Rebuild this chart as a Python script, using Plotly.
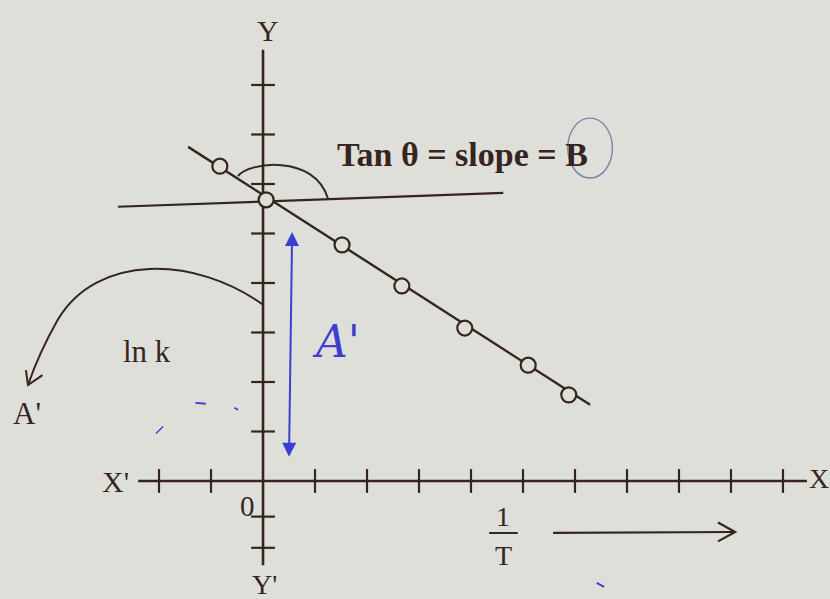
import plotly.graph_objects as go

# Arrhenius plot: ln k against 1/T (axis units = tick spacing)
inv_T = [-0.83, 0.06, 1.52, 2.67, 3.88, 5.10, 5.88]
ln_k = [6.36, 5.68, 4.77, 3.94, 3.09, 2.34, 1.74]

# straight line drawn through the points
fit_x = [-1.44, 6.29]
fit_y = [6.75, 1.54]

# axis tick positions
x_ticks = [-2, -1, 1, 2, 3, 4, 5, 6, 7, 8, 9, 10]
y_ticks = [-1.35, -0.72, 1, 2, 3, 4, 5, 6, 7, 8]

INK = "#36251f"
PAPER = "#dfdfda"
BLUE = "#3c3ed2"
SERIF = "Liberation Serif, Times New Roman, serif"

fig = go.Figure()

# axes X'X and Y'Y
fig.add_trace(go.Scatter(x=[-2.40, 10.46], y=[0, 0], mode="lines",
                         line=dict(color=INK, width=2.6), hoverinfo="skip"))
fig.add_trace(go.Scatter(x=[0, 0], y=[-1.70, 8.71], mode="lines",
                         line=dict(color=INK, width=2.6), hoverinfo="skip"))

# tick marks crossing the axes
fig.add_trace(go.Scatter(x=x_ticks, y=[0] * len(x_ticks), mode="markers",
                         marker=dict(symbol="line-ns", size=17,
                                     line=dict(color=INK, width=2.2)),
                         hoverinfo="skip"))
fig.add_trace(go.Scatter(x=[0] * len(y_ticks), y=y_ticks, mode="markers",
                         marker=dict(symbol="line-ew", size=17,
                                     line=dict(color=INK, width=2.2)),
                         hoverinfo="skip"))

# horizontal reference line for the angle θ
fig.add_trace(go.Scatter(x=[-2.79, 4.62], y=[5.54, 5.82], mode="lines",
                         line=dict(color=INK, width=2.2), hoverinfo="skip"))

# best-fit line and experimental points
fig.add_trace(go.Scatter(x=fit_x, y=fit_y, mode="lines",
                         line=dict(color=INK, width=2.4), hoverinfo="skip"))
fig.add_trace(go.Scatter(x=inv_T, y=ln_k, mode="markers",
                         marker=dict(symbol="circle", size=15, color=PAPER,
                                     line=dict(color=INK, width=2.2)),
                         hoverinfo="skip"))

shapes = [
    # angle arc between line and horizontal
    dict(type="path", path="M -0.48,6.16 C -0.3,6.44 1.0,6.62 1.25,5.70",
         line=dict(color=INK, width=2), layer="above"),
    # curved arrow from intercept to A'
    dict(type="path",
         path="M 0,3.56 C -1.3,4.55 -3.2,4.6 -3.95,3.25 Q -4.3,2.6 -4.52,1.94",
         line=dict(color=INK, width=2)),
    dict(type="path", path="M -4.56,2.24 L -4.52,1.94 L -4.24,2.14",
         line=dict(color=INK, width=2)),
    # fraction bar of 1/T and direction arrow
    dict(type="line", x0=4.35, x1=4.90, y0=-1.05, y1=-1.05,
         line=dict(color=INK, width=2)),
    dict(type="line", x0=5.58, x1=9.05, y0=-1.05, y1=-1.03,
         line=dict(color=INK, width=2.2)),
    dict(type="path", path="M 8.75,-0.84 L 9.08,-1.03 L 8.75,-1.22",
         line=dict(color=INK, width=2.2)),
    # pen marks: ring around B, small strokes
    dict(type="circle", x0=5.86, x1=6.72, y0=6.12, y1=7.33,
         line=dict(color="#7d80a8", width=1.4)),
    dict(type="line", x0=-1.30, x1=-1.10, y0=1.58, y1=1.56,
         line=dict(color=BLUE, width=1.8)),
    dict(type="line", x0=-0.55, x1=-0.48, y0=1.48, y1=1.44,
         line=dict(color=BLUE, width=1.8)),
    dict(type="line", x0=-2.06, x1=-1.92, y0=0.96, y1=1.10,
         line=dict(color=BLUE, width=1.4)),
    dict(type="line", x0=6.42, x1=6.56, y0=-2.06, y1=-2.14,
         line=dict(color=BLUE, width=2)),
]

annotations = [
    dict(x=0.10, y=9.11, text="Y", font=dict(size=30)),
    dict(x=0.02, y=-2.10, text="Y'", font=dict(size=28)),
    dict(x=-2.84, y=-0.02, text="X'", font=dict(size=30)),
    dict(x=10.70, y=0.06, text="X", font=dict(size=28)),
    dict(x=-0.30, y=-0.50, text="0", font=dict(size=29)),
    dict(x=-2.23, y=2.61, text="ln k", font=dict(size=31)),
    dict(x=-4.54, y=1.37, text="A'", font=dict(size=31)),
    dict(x=4.62, y=-0.72, text="1", font=dict(size=28)),
    dict(x=4.62, y=-1.50, text="T", font=dict(size=28)),
    dict(x=3.83, y=6.60, text="<b>Tan θ = slope = B</b>", font=dict(size=34)),
    dict(x=1.40, y=2.82, text="<i>A'</i>",
         font=dict(size=44, color=BLUE, family="DejaVu Serif")),
    # double-headed pen arrow marking the intercept
    dict(x=0.56, y=5.03, ax=0.50, ay=0.46, axref="x", ayref="y",
         text="", showarrow=True, arrowside="end+start", arrowhead=2,
         arrowsize=1.4, arrowwidth=2, arrowcolor=BLUE, font=dict()),
]
for a in annotations:
    a.setdefault("showarrow", False)
    a.setdefault("xref", "x")
    a.setdefault("yref", "y")
    f = a.setdefault("font", {})
    f.setdefault("family", SERIF)
    f.setdefault("color", INK)

fig.update_layout(
    width=830, height=599,
    margin=dict(l=0, r=0, t=0, b=0),
    paper_bgcolor=PAPER, plot_bgcolor=PAPER,
    showlegend=False,
    xaxis=dict(range=[-5.058, 10.904], visible=False, fixedrange=True),
    yaxis=dict(range=[-2.384, 9.717], visible=False, fixedrange=True),
    shapes=shapes, annotations=annotations,
)

fig.write_html("out.html")
